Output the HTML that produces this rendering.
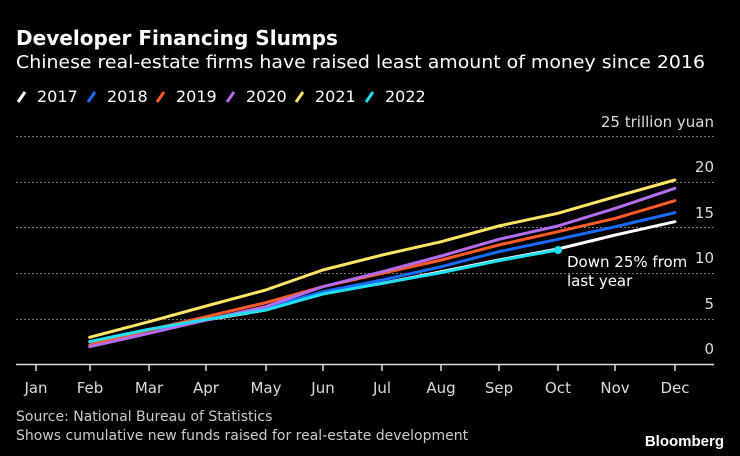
<!DOCTYPE html>
<html><head><style>
body{margin:0;background:#000;}
svg{display:block;font-family:"DejaVu Sans","Liberation Sans",sans-serif;}
</style></head><body>
<svg width="740" height="456" viewBox="0 0 740 456">
<rect width="740" height="456" fill="#000"/>
<text x="16" y="45" fill="#fff" font-size="20" font-weight="bold" textLength="322" lengthAdjust="spacingAndGlyphs">Developer Financing Slumps</text>
<text x="16" y="68" fill="#fff" font-size="18" textLength="689" lengthAdjust="spacingAndGlyphs">Chinese real-estate firms have raised least amount of money since 2016</text>
<g font-size="16" fill="#fff">
<line x1="18" y1="102" x2="25" y2="92" stroke="#fff" stroke-width="3"/><text x="37" y="102">2017</text>
<line x1="88" y1="102" x2="95" y2="92" stroke="#1a6cff" stroke-width="3"/><text x="107" y="102">2018</text>
<line x1="157" y1="102" x2="164" y2="92" stroke="#ff5a28" stroke-width="3"/><text x="176" y="102">2019</text>
<line x1="227" y1="102" x2="234" y2="92" stroke="#b46cf0" stroke-width="3"/><text x="246" y="102">2020</text>
<line x1="296" y1="102" x2="303" y2="92" stroke="#ffe566" stroke-width="3"/><text x="315" y="102">2021</text>
<line x1="366" y1="102" x2="373" y2="92" stroke="#1ee0f0" stroke-width="3"/><text x="385" y="102">2022</text>
</g>
<text x="714" y="127" fill="#ddd" font-size="15" text-anchor="end">25 trillion yuan</text>
<g stroke="#777" stroke-width="1" stroke-dasharray="2,2">
<line x1="16" y1="136.5" x2="714" y2="136.5"/>
<line x1="16" y1="182.5" x2="714" y2="182.5"/>
<line x1="16" y1="227.5" x2="714" y2="227.5"/>
<line x1="16" y1="273.5" x2="714" y2="273.5"/>
<line x1="16" y1="319.5" x2="714" y2="319.5"/>
</g>
<g fill="#ddd" font-size="15" text-anchor="end">
<text x="714" y="172">20</text><text x="714" y="218">15</text><text x="714" y="263">10</text><text x="714" y="309">5</text><text x="714" y="354">0</text>
</g>
<line x1="16" y1="364.5" x2="714" y2="364.5" stroke="#ddd" stroke-width="1.5"/>
<g stroke="#ddd" stroke-width="1.5">
<line x1="36" y1="365" x2="36" y2="371"/><line x1="90" y1="365" x2="90" y2="371"/><line x1="149" y1="365" x2="149" y2="371"/><line x1="206" y1="365" x2="206" y2="371"/><line x1="266" y1="365" x2="266" y2="371"/><line x1="323" y1="365" x2="323" y2="371"/><line x1="382" y1="365" x2="382" y2="371"/><line x1="441" y1="365" x2="441" y2="371"/><line x1="499" y1="365" x2="499" y2="371"/><line x1="558" y1="365" x2="558" y2="371"/><line x1="615" y1="365" x2="615" y2="371"/><line x1="675" y1="365" x2="675" y2="371"/>
</g>
<g fill="#ddd" font-size="15" text-anchor="middle">
<text x="36" y="393">Jan</text><text x="90" y="393">Feb</text><text x="149" y="393">Mar</text><text x="206" y="393">Apr</text><text x="266" y="393">May</text><text x="323" y="393">Jun</text><text x="382" y="393">Jul</text><text x="441" y="393">Aug</text><text x="499" y="393">Sep</text><text x="558" y="393">Oct</text><text x="615" y="393">Nov</text><text x="675" y="393">Dec</text>
</g>
<g transform="translate(0,100) scale(0.47192,0.33333)" fill="none" stroke-width="3" stroke-linejoin="round" stroke-linecap="round">
<polyline vector-effect="non-scaling-stroke" stroke="#fff" points="190,725 316,688 437,660 563,630 684,580 810,550 935,515 1057,480 1182,447 1304,405 1430,365"/>
<polyline vector-effect="non-scaling-stroke" stroke="#1a6cff" points="190,725 316,688 437,660 563,625 684,575 810,540 935,500 1057,455 1182,418 1304,380 1430,338"/>
<polyline vector-effect="non-scaling-stroke" stroke="#ff5a28" points="190,735 316,690 437,650 563,608 684,560 810,520 935,480 1057,435 1182,395 1304,355 1430,302"/>
<polyline vector-effect="non-scaling-stroke" stroke="#b46cf0" points="190,740 316,700 437,660 563,620 684,560 810,515 935,468 1057,418 1182,378 1304,325 1430,265"/>
<polyline vector-effect="non-scaling-stroke" stroke="#ffe566" points="190,712 316,665 437,618 563,570 684,510 810,465 935,425 1057,378 1182,340 1304,290 1430,240"/>
<polyline vector-effect="non-scaling-stroke" stroke="#1ee0f0" points="190,725 316,688 437,658 563,630 684,582 810,550 935,518 1057,482 1182,450"/>
</g>
<circle cx="558" cy="250" r="4" fill="#1ee0f0"/>
<text x="567" y="267" fill="#fff" font-size="15">Down 25% from</text>
<text x="567" y="286" fill="#fff" font-size="15">last year</text>
<text x="16" y="421" fill="#ccc" font-size="14">Source: National Bureau of Statistics</text>
<text x="16" y="440" fill="#ccc" font-size="14">Shows cumulative new funds raised for real-estate development</text>
<text x="724" y="446" fill="#fff" font-size="15" font-weight="bold" text-anchor="end" font-family="Liberation Sans, sans-serif">Bloomberg</text>
</svg>
</body></html>
